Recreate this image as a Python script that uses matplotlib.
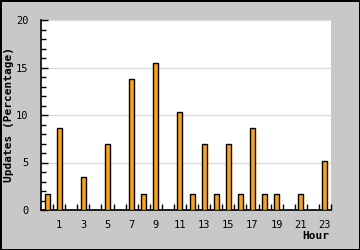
import numpy as np
import matplotlib
matplotlib.use("Agg")
import matplotlib.pyplot as plt
from matplotlib.ticker import MultipleLocator, FixedLocator

# percentage of updates per hour of day
hours = list(range(24))
updates_pct = [1.72, 8.62, 0, 3.45, 0, 6.90, 0, 13.79, 1.72, 15.52, 0, 10.34,
               1.72, 6.90, 1.72, 6.90, 1.72, 8.62, 1.72, 1.72, 0, 1.72, 0, 5.17]
hour_labels = [str(h) for h in hours if h % 2 == 1]
hour_label_pos = [h for h in hours if h % 2 == 1]

plt.rcParams['font.family'] = ['DejaVu Sans Mono']

fig = plt.figure(figsize=(3.6, 2.5), dpi=100, facecolor='#c8c8c8',
                 edgecolor='black', linewidth=1.0)
ax = fig.add_axes([41/360, 1-210/250, 290/360, 190/250])
ax.set_facecolor('white')

ax.bar(hours, updates_pct, width=0.42, color='#ffa500', edgecolor='black',
       linewidth=1, zorder=3)

ax.set_xlim(-0.5, 23.5)
ax.set_ylim(0, 20)

ax.set_yticks([0, 5, 10, 15, 20])
ax.yaxis.set_minor_locator(MultipleLocator(1))
ax.yaxis.grid(True, color='#dddddd', linewidth=1, zorder=0)
ax.tick_params(axis='y', which='major', direction='in', length=5, width=1,
               labelsize=7.5, pad=9)
ax.tick_params(axis='y', which='minor', direction='in', length=3.5, width=1)

ax.set_xticks(hour_label_pos, hour_labels)
ax.xaxis.set_minor_locator(FixedLocator([h + 0.5 for h in hours]))
ax.tick_params(axis='x', which='major', length=0, labelsize=7.5, pad=7)
ax.tick_params(axis='x', which='minor', direction='in', length=4, width=1)

for s in ['top', 'right']:
    ax.spines[s].set_visible(False)
for s in ['left', 'bottom']:
    ax.spines[s].set_linewidth(1.2)

fig.text(9/360, 1-115/250, 'Updates (Percentage)', rotation=90, fontsize=8,
         fontweight='bold', ha='center', va='center')
fig.text(329/360, 1-236/250, 'Hour', fontsize=8, fontweight='bold',
         ha='right', va='center')

fig.savefig('out.png', dpi=100)
